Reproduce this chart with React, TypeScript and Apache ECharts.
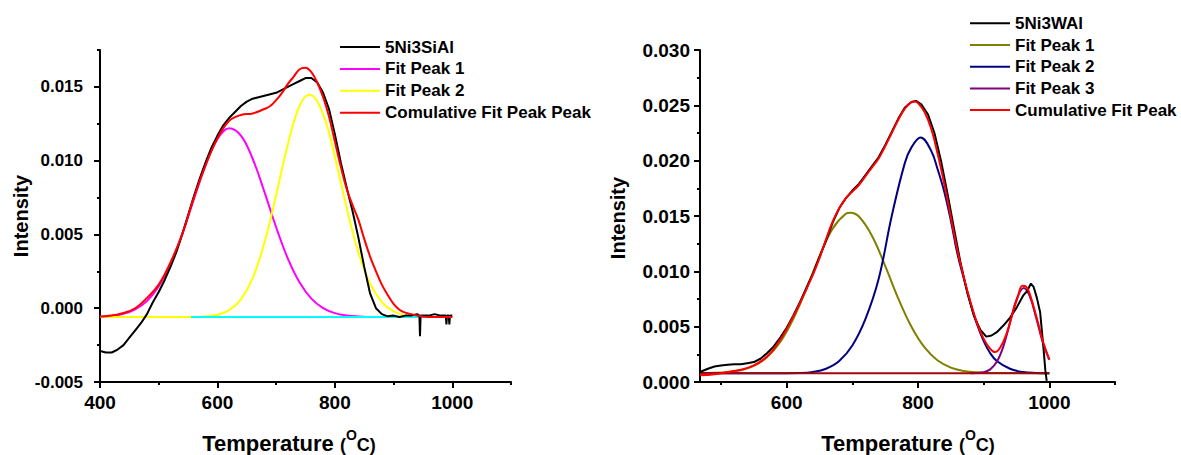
import React, { useEffect, useRef } from 'react';
import * as echarts from 'echarts';

const FONT = 'Arial, "Liberation Sans", Helvetica, sans-serif';

// ---------- Left chart (5Ni3SiAl) ----------
const leftBlackT = [400,410,420,430,440,450,460,470,480,490,500,510,520,530,540,550,560,570,580,590,600,610,620,630,640,650,660,670,680,690,700,710,720,730,740,750,760,770,780,790,800,810,820,830,840,850,860,870,880,890,900,910,920,930,940,944,945,946,960,970,980,989,990,991,994,995,996,1000];
const leftBlackV = [-0.0029,-0.0030,-0.0030,-0.0028,-0.0025,-0.0020,-0.0015,-0.0010,-0.0004,0.0004,0.0011,0.0019,0.0028,0.0038,0.0050,0.0063,0.0076,0.0088,0.0099,0.0109,0.0117,0.0124,0.0129,0.0133,0.0137,0.0140,0.0142,0.0143,0.0144,0.0145,0.0146,0.0148,0.0150,0.0152,0.0154,0.0156,0.0156,0.0153,0.0146,0.0135,0.0118,0.0099,0.0082,0.0066,0.0048,0.0028,0.0010,0.0000,-0.0004,-0.00055,-0.0005,-0.0006,-0.0005,-0.0005,-0.0004,-0.0005,-0.0019,-0.0005,-0.0005,-0.0004,-0.0005,-0.0005,-0.0011,-0.0005,-0.0005,-0.0011,-0.0005,-0.0005];

const leftPeak1T = [400,420,440,460,480,500,520,540,560,580,600,620,640,660,680,700,720,740,760,780,800,820,840,860,880,900,920,940,960,980,1000];
const leftPeak1V = [-0.00057,-0.00051,-0.00038,-0.00008,0.00049,0.00148,0.00299,0.00503,0.00741,0.00972,0.01147,0.0122,0.0117,0.01013,0.00789,0.00549,0.00336,0.00174,0.00065,0.00001,-0.00033,-0.00049,-0.00056,-0.00059,-0.0006,-0.0006,-0.0006,-0.0006,-0.0006,-0.0006,-0.0006];

const leftPeak2T = [400,500,560,580,600,620,640,660,680,700,720,740,757,780,800,820,840,860,880,900,920,940,960,1000];
const leftPeak2V = [-0.0006,-0.0006,-0.0006,-0.00055,-0.00044,-0.00013,0.0006,0.00204,0.00444,0.00767,0.01112,0.01372,0.01447,0.01314,0.01025,0.00683,0.0038,0.00167,0.00041,-0.00021,-0.00047,-0.00056,-0.0006,-0.0006];

const leftCumT = [400,420,440,460,480,500,520,540,560,580,600,620,640,660,680,690,700,710,720,730,740,750,760,770,780,790,800,810,820,830,840,850,860,870,880,890,900,910,920,940,960,1000];
const leftCumV = [-0.00057,-0.0005,-0.00032,0.0000,0.0007,0.0016,0.0031,0.0050,0.0075,0.0097,0.0115,0.0127,0.0131,0.0132,0.0135,0.0137,0.0141,0.0146,0.0152,0.0157,0.0162,0.0163,0.0160,0.0153,0.0143,0.0130,0.0113,0.0096,0.0081,0.0070,0.0060,0.0047,0.0035,0.0025,0.0016,0.0009,0.0003,-0.0001,-0.0003,-0.0005,-0.0006,-0.0006];

const leftBaseT = [555, 1000];
const leftBaseV = [-0.0006, -0.0006];

// ---------- Right chart (5Ni3WAl) ----------
const rightBlackT = [468,480,490,500,510,520,530,540,550,560,570,580,590,600,610,620,630,640,650,660,670,680,690,700,710,720,730,740,750,760,770,780,790,797,805,815,825,835,845,855,865,875,885,895,904,912,920,930,940,950,960,966,972,976,981,986,991,994,996];
const rightBlackV = [0.0009,0.0012,0.0014,0.0015,0.00155,0.0016,0.0016,0.0017,0.0018,0.0021,0.0026,0.0032,0.0040,0.0049,0.0060,0.0072,0.0085,0.0098,0.0113,0.0128,0.0144,0.0157,0.0166,0.0173,0.0179,0.0187,0.0195,0.0203,0.0214,0.0226,0.0238,0.0248,0.0253,0.0254,0.0251,0.0242,0.0225,0.0200,0.0170,0.0138,0.0107,0.0081,0.0060,0.0047,0.0041,0.0042,0.0045,0.0051,0.0058,0.0067,0.0078,0.0082,0.0089,0.0086,0.0076,0.0063,0.0031,0.0010,0.0001];

const rightPeak1T = [468,490,510,530,550,570,590,610,630,650,670,690,697,710,730,750,770,790,810,830,850,870,890,910,1000];
const rightPeak1V = [0.0008,0.00083,0.0009,0.00106,0.00145,0.00223,0.0036,0.00569,0.00841,0.01136,0.01386,0.0152,0.0153,0.01495,0.0132,0.01049,0.00754,0.00499,0.00312,0.00194,0.0013,0.001,0.00087,0.00082,0.0008];

const rightPeak2T = [468,600,620,640,660,680,700,720,740,760,780,790,804,820,830,840,850,860,870,880,890,900,910,920,940,960,980,1000];
const rightPeak2V = [0.0008,0.0008,0.00081,0.0009,0.0012,0.0019,0.0033,0.0057,0.0093,0.0150,0.0198,0.0212,0.0221,0.0209,0.0192,0.0172,0.0146,0.0116,0.0093,0.0071,0.0052,0.0037,0.0026,0.0019,0.0012,0.0009,0.00082,0.0008];

const rightPeak3T = [880,900,910,920,930,940,950,961,970,980,990,1000];
const rightPeak3V = [0.0008,0.00089,0.00114,0.00182,0.00322,0.00533,0.00745,0.0085,0.00778,0.00578,0.0036,0.00203];

const rightCumT = [468,490,510,530,550,570,590,600,620,640,650,660,670,680,690,700,710,720,730,740,750,760,770,780,790,795,800,810,820,830,840,850,860,870,880,890,900,910,917,925,935,945,952,959,965,970,977,983,990,1000];
const rightCumV = [0.0006,0.0007,0.0009,0.0011,0.0015,0.0023,0.0038,0.0048,0.0071,0.0097,0.0112,0.0129,0.0145,0.0157,0.0166,0.0172,0.0178,0.0186,0.0194,0.0202,0.0213,0.0225,0.0237,0.0247,0.0253,0.02535,0.0252,0.0244,0.0229,0.0206,0.0179,0.0149,0.0119,0.0094,0.0072,0.0053,0.0039,0.0030,0.0027,0.0031,0.0044,0.0064,0.0077,0.0087,0.0086,0.0080,0.0066,0.0053,0.0037,0.0020];

const rightBaseT = [468, 1000];
const rightBaseV = [0.0008, 0.0008];

// ---------- Axes ticks ----------
const leftXMajor = [400, 600, 800, 1000];
const leftXMinor = [500, 700, 900, 1100];
const leftYMajor = [-0.005, 0, 0.005, 0.01, 0.015];
const leftYMinor = [-0.0025, 0.0025, 0.0075, 0.0125, 0.0175];
const rightXMajor = [600, 800, 1000];
const rightXMinor = [500, 700, 900, 1100];
const rightYMajor = [0, 0.005, 0.01, 0.015, 0.02, 0.025, 0.03];
const rightYMinor = [0.0025, 0.0075, 0.0125, 0.0175, 0.0225, 0.0275];

// ---------- Legends ----------
const leftLegendNames = ['5Ni3SiAl', 'Fit Peak 1', 'Fit Peak 2', 'Comulative Fit Peak Peak'];
const leftLegendColors = ['#000000', '#FF00FF', '#FFFF00', '#FF0000'];
const rightLegendNames = ['5Ni3WAl', 'Fit Peak 1', 'Fit Peak 2', 'Fit Peak 3', 'Cumulative Fit Peak'];
const rightLegendColors = ['#000000', '#808000', '#000080', '#800080', '#FF0000'];

const pairs = (t: number[], v: number[]) => t.map((x, i) => [x, v[i]]);

export default function App() {
  const ref = useRef<HTMLDivElement>(null);
  useEffect(() => {
    const chart = echarts.init(ref.current as HTMLDivElement, null, { renderer: 'svg' });
    const tickStyle = { color: '#000', width: 2 };
    const labelBase = { color: '#000', fontWeight: 'bold' as const, fontFamily: FONT };

    const xMajor = (grid: number, min: number, max: number, vals: number[], size: number, margin: number) => ({
      type: 'value', gridIndex: grid, min, max, position: 'bottom',
      axisLine: { show: true, onZero: false, lineStyle: { color: '#000', width: 2 } },
      axisTick: { show: true, customValues: vals, length: 6, lineStyle: tickStyle },
      axisLabel: { ...labelBase, customValues: vals, fontSize: size, margin, formatter: (v: number) => String(v) },
      splitLine: { show: false },
    });
    const xMinor = (grid: number, min: number, max: number, vals: number[]) => ({
      type: 'value', gridIndex: grid, min, max, position: 'bottom',
      axisLine: { show: false, onZero: false },
      axisTick: { show: true, customValues: vals, length: 3, lineStyle: tickStyle },
      axisLabel: { show: false },
      splitLine: { show: false },
    });
    const yMajor = (grid: number, min: number, max: number, vals: number[], size: number, margin: number) => ({
      type: 'value', gridIndex: grid, min, max, position: 'left',
      axisLine: { show: true, onZero: false, lineStyle: { color: '#000', width: 2 } },
      axisTick: { show: true, customValues: vals, length: 6, lineStyle: tickStyle },
      axisLabel: { ...labelBase, customValues: vals, fontSize: size, margin, formatter: (v: number) => v.toFixed(3) },
      splitLine: { show: false },
    });
    const yMinor = (grid: number, min: number, max: number, vals: number[]) => ({
      type: 'value', gridIndex: grid, min, max, position: 'left',
      axisLine: { show: false, onZero: false },
      axisTick: { show: true, customValues: vals, length: 3, lineStyle: tickStyle },
      axisLabel: { show: false },
      splitLine: { show: false },
    });

    const mk = (name: string, t: number[], v: number[], color: string, ai: number, smooth: number | boolean) => ({
      name, type: 'line', xAxisIndex: ai, yAxisIndex: ai, data: pairs(t, v),
      showSymbol: false, symbol: 'none', smooth, silent: true,
      lineStyle: { color, width: 2 }, itemStyle: { color },
    });

    const legendGraphics = (names: string[], colors: string[], x0: number, y0: number, step: number) => {
      const out: any[] = [];
      names.forEach((n, i) => {
        const y = y0 + i * step;
        out.push({ type: 'line', shape: { x1: x0, y1: y, x2: x0 + 40, y2: y }, style: { stroke: colors[i], lineWidth: 2 }, silent: true });
        out.push({ type: 'text', x: x0 + 45, y, style: { text: n, fontSize: 17, fontWeight: 'bold', fontFamily: FONT, fill: '#000', align: 'left', verticalAlign: 'middle' }, silent: true });
      });
      return out;
    };

    const titleRich = {
      a: { fontSize: 22, fontWeight: 'bold', fontFamily: FONT, fill: '#000', lineHeight: 26, verticalAlign: 'bottom' },
      b: { fontSize: 18, fontWeight: 'bold', fontFamily: FONT, fill: '#000', lineHeight: 23, verticalAlign: 'bottom' },
      s: { fontSize: 14, fontWeight: 'bold', fontFamily: FONT, fill: '#000', lineHeight: 16, verticalAlign: 'top' },
    };
    const xTitle = (x: number) => ({
      type: 'text', x, y: 441, silent: true,
      style: { text: '{a|Temperature }{b|(}{s|O}{b|C)}', rich: titleRich, align: 'center', verticalAlign: 'middle' },
    });
    const yTitle = (x: number, y: number) => ({
      type: 'text', x, y, rotation: Math.PI / 2, silent: true,
      style: { text: 'Intensity', fontSize: 20, fontWeight: 'bold', fontFamily: FONT, fill: '#000', align: 'center', verticalAlign: 'middle' },
    });

    chart.setOption({
      animation: false,
      grid: [
        { left: 100, top: 50, width: 411, height: 332, containLabel: false },
        { left: 700, top: 50, width: 415, height: 332, containLabel: false },
      ],
      xAxis: [
        xMajor(0, 400, 1100, leftXMajor, 19, 11),
        xMinor(0, 400, 1100, leftXMinor),
        xMajor(1, 468, 1100, rightXMajor, 19, 11),
        xMinor(1, 468, 1100, rightXMinor),
      ],
      yAxis: [
        yMajor(0, -0.005, 0.0175, leftYMajor, 17, 17),
        yMinor(0, -0.005, 0.0175, leftYMinor),
        yMajor(1, 0, 0.03, rightYMajor, 19, 10),
        yMinor(1, 0, 0.03, rightYMinor),
      ],
      series: [
        mk('L Fit Peak 1', leftPeak1T, leftPeak1V, '#FF00FF', 0, 0.4),
        mk('L Fit Peak 2', leftPeak2T, leftPeak2V, '#FFFF00', 0, 0.4),
        mk('L Baseline', leftBaseT, leftBaseV, '#00FFFF', 0, false),
        mk('5Ni3SiAl', leftBlackT, leftBlackV, '#000000', 0, false),
        mk('Comulative Fit Peak Peak', leftCumT, leftCumV, '#FF0000', 0, 0.4),
        mk('R Fit Peak 1', rightPeak1T, rightPeak1V, '#808000', 2, 0.4),
        mk('R Fit Peak 2', rightPeak2T, rightPeak2V, '#000080', 2, 0.4),
        mk('R Fit Peak 3', rightPeak3T, rightPeak3V, '#800080', 2, 0.4),
        mk('R Baseline', rightBaseT, rightBaseV, '#A00A0A', 2, false),
        mk('5Ni3WAl', rightBlackT, rightBlackV, '#000000', 2, false),
        mk('Cumulative Fit Peak', rightCumT, rightCumV, '#FF0000', 2, 0.4),
      ],
      graphic: [
        ...legendGraphics(leftLegendNames, leftLegendColors, 340, 47, 21.9),
        ...legendGraphics(rightLegendNames, rightLegendColors, 970, 23.3, 21.7),
        xTitle(289),
        xTitle(908),
        yTitle(21, 216),
        yTitle(618, 218),
      ],
    });
    return () => chart.dispose();
  }, []);
  return <div ref={ref} style={{ position: 'absolute', left: 0, top: 0, width: 1181, height: 455 }} />;
}
